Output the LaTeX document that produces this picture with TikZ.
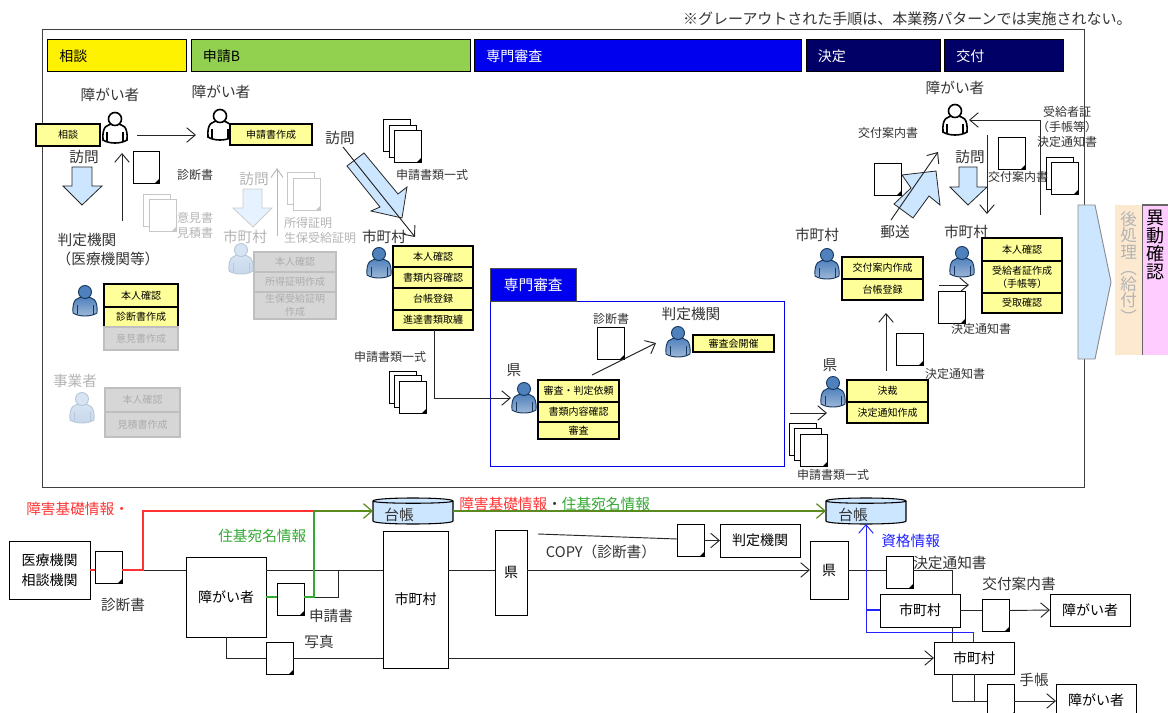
\documentclass[tikz,border=0pt]{standalone}
\usepackage{fontspec}
\setmainfont{Noto Sans CJK JP}
\usetikzlibrary{arrows.meta,positioning,calc,shapes.geometric}
\usepackage{xcolor}
\definecolor{hdrgreen}{HTML}{92D050}
\definecolor{hdrblue}{HTML}{0000EE}
\definecolor{hdrnavy}{HTML}{000066}
\definecolor{boxyellow}{HTML}{FFFF99}
\definecolor{skyblock}{HTML}{CCE6FF}
\definecolor{fadeblock}{HTML}{E6F2FF}
\definecolor{fadetext}{HTML}{B4B4B4}
\definecolor{infored}{HTML}{FF3333}
\definecolor{infogreen}{HTML}{33A833}
\definecolor{infoolive}{HTML}{5B8A1E}
\definecolor{infoblue}{HTML}{2222FF}
\definecolor{bandpeach}{HTML}{FCE9D0}
\definecolor{bandpink}{HTML}{FFCCFF}
\definecolor{usrtop}{HTML}{4F81BD}
\definecolor{usrlow}{HTML}{A3BBD8}
\definecolor{usrline}{HTML}{17375E}
\definecolor{fadetop}{HTML}{D6E4F3}
\definecolor{fadelow}{HTML}{C6D7EA}
\definecolor{fadeline}{HTML}{B8C8D8}

\begin{document}
\begin{tikzpicture}[
  x=0.75pt, y=-0.75pt,
  node distance=0pt,
  lbl/.style={inner sep=0, text=black!80, font=\fontsize{11}{14.5}\selectfont, align=center},
  sml/.style={inner sep=0, text=black!80, font=\fontsize{9}{11}\selectfont, align=center},
  faded/.style={text=fadetext},
  hdr/.style={draw=black, anchor=north west, minimum height=24pt, inner xsep=9pt, inner ysep=0, align=left, font=\fontsize{10.5}{12}\selectfont},
  ybox/.style 2 args={draw=black, line width=1.1pt, fill=boxyellow, minimum width=#1*0.75pt, minimum height=#2*0.75pt, inner sep=0, outer sep=0, align=center, font=\fontsize{7.5}{9.5}\selectfont},
  gbox/.style 2 args={draw=black!25, line width=1.1pt, fill=black!16, text=black!32, minimum width=#1*0.75pt, minimum height=#2*0.75pt, inner sep=0, outer sep=0, align=center, font=\fontsize{7.5}{9.5}\selectfont},
  wbox/.style 2 args={draw=black, fill=white, line width=0.7pt, anchor=north west, minimum width=#1*0.75pt, minimum height=#2*0.75pt, inner sep=0, outer sep=0, align=center, font=\fontsize{10.5}{15}\selectfont},
  docu/.style={draw=#1, fill=white, line width=0.7pt, minimum width=20.25pt, minimum height=24pt, inner sep=0, outer sep=0, anchor=north west,
    path picture={\fill[#1] (path picture bounding box.south east) -- ++(-3pt,0) -- ++(3pt,3pt) -- cycle;}},
  docu/.default=black,
  ln/.style={draw=black!85, line width=0.7pt},
  arr/.style={ln, -{Straight Barb[length=6.5pt,width=11pt]}},
  garr/.style={draw=black!28, line width=0.7pt, -{Straight Barb[length=6.5pt,width=9pt]}},
  blk/.style={draw=black!85, fill=skyblock, line width=0.6pt},
  gblk/.style={draw=black!20, fill=fadeblock, line width=0.6pt},
  db/.style={minimum width=60pt, minimum height=19.5pt, inner sep=0, outer sep=0},
  pics/drum/.style={code={
    \path[draw=black, line width=0.8pt, fill=skyblock] (-40,-10) -- (-40,10) .. controls (-40,14) and (40,14) .. (40,10) -- (40,-10) .. controls (40,-14) and (-40,-14) .. cycle;
    \draw[black, line width=0.8pt] (-40,-10) .. controls (-40,-7) and (40,-7) .. (40,-10);
  }},
  pics/usr/.style args={#1/#2/#3/#4}{code={
    \path[draw=#3, line width=#4, top color=#1, bottom color=#2] (-12,12) .. controls (-13,-2) and (-8,-4) .. (0,-4) .. controls (8,-4) and (13,-2) .. (12,12) .. controls (6,16) and (-6,16) .. cycle;
    \draw[#3, line width=#4] (-8,4) -- (-8,13) (8,4) -- (8,13);
    \path[draw=#3, line width=#4, top color=#1, bottom color=#1] (0,-9) circle (6.5);
  }}
]
\path[use as bounding box, clip] (0,0) rectangle (1168,713);

% upper frame and phase headers
\node[sml, font=\fontsize{11.25}{13}\selectfont, anchor=east] (note) at (1132,19) {※グレーアウトされた手順は、本業務パターンでは実施されない。};
\node[draw=black!75, line width=0.9pt, anchor=north west, minimum width=781.5pt, minimum height=343.5pt] (frame) at (42,29) {};
\node[hdr, fill=yellow, text width=86.25pt] (hdrsoudan) at (47,39.5) {相談};
\node[hdr, fill=hdrgreen, text width=191.25pt, right=3pt of hdrsoudan.north east, anchor=north west] (hdrshinsei) {申請B};
\node[hdr, fill=hdrblue, text=white, text width=227.25pt, right=3pt of hdrshinsei.north east, anchor=north west] (hdrsenmon) {専門審査};
\node[hdr, fill=hdrnavy, text=white, text width=82.5pt, right=3pt of hdrsenmon.north east, anchor=north west] (hdrkettei) {決定};
\node[hdr, fill=hdrnavy, text=white, text width=71.25pt, right=3pt of hdrkettei.north east, anchor=north west] (hdrkofu) {交付};

% soudan
\node[lbl] (lblusra) at (110,95) {障がい者};
\coordinate (usra) at (115,128);
\pic at (usra) {usr=white/white/black/1.2pt};
\node[ybox={64}{22}, anchor=north west] (soudan) at (36,124) {相談};
\node[lbl] (lblhoma) at (84,157) {訪問};
\draw[blk] (72,167) -- (92,167) -- (92,186) -- (102,186) -- (82,205) -- (63,186) -- (72,186) -- cycle;
\coordinate (ua) at (122,221); \coordinate (ub) at (122,153);
\draw[arr] (ua) -- (ub);
\node[docu, minimum width=19.5pt] (docshin) at (133,151) {};
\node[sml] (lblshin) at (195,175) {診断書};
\node[docu=black!22] (doci1) at (143,194) {};
\node[docu=black!22] (doci2) at (149,199) {};
\node[sml, faded] (lbliken) at (195,218) {意見書};
\node[sml, faded] (lblmitsu) at (195,233) {見積書};

\node[lbl] (lblhantei) at (87,240) {判定機関};
\node[lbl] (lblhantei2) at (108,259) {（医療機関等）};
\coordinate (usrc) at (85,301);
\pic at (usrc) {usr=usrtop/usrlow/usrline/0.7pt};
\node[ybox={74}{23}, anchor=north west] (hon) at (104,284) {本人確認};
\node[ybox={74}{20}, below=of hon] (shinsaku) {診断書作成};
\node[gbox={74}{23}, below=of shinsaku] (ikensaku) {意見書作成};

\node[lbl, faded] (lbljigyo) at (75,381) {事業者};
\coordinate (usrd) at (82,408);
\pic at (usrd) {usr=fadetop/fadelow/fadeline/0.7pt};
\node[gbox={75}{24}, anchor=north west] (ghona) at (105,388) {本人確認};
\node[gbox={75}{25}, below=of ghona] (gmitsu) {見積書作成};

% shinsei
\node[lbl] (lblusrb) at (221,92) {障がい者};
\coordinate (usrb) at (220,125);
\pic at (usrb) {usr=white/white/black/1.2pt};
\node[ybox={82}{21}, anchor=north west] (shinsaku2) at (230,124) {申請書作成};
\coordinate (ra) at (137,135); \coordinate (rb) at (196,135);
\draw[arr] (ra) -- (rb);

\node[lbl, faded] (lblhomb) at (254,179) {訪問};
\draw[gblk] (243,189) -- (262,189) -- (262,208) -- (272,208) -- (253,227) -- (233,208) -- (243,208) -- cycle;
\coordinate (ga) at (277,236); \coordinate (gb) at (277,168);
\draw[garr] (ga) -- (gb);
\node[docu=black!22] (docg1) at (287,172) {};
\node[docu=black!22] (docg2) at (293,178) {};
\node[sml, faded] (lblshotoku) at (308,223) {所得証明};
\node[sml, faded] (lblseiho) at (320,238) {生保受給証明};
\node[lbl, faded] (lblcityg) at (245,237) {市町村};
\coordinate (usrg) at (241,259);
\pic at (usrg) {usr=fadetop/fadelow/fadeline/0.7pt};
\node[gbox={82}{20}, anchor=north west] (ghonb) at (254,252) {本人確認};
\node[gbox={82}{20}, below=of ghonb] (gshotoku) {所得証明作成};
\node[gbox={82}{27}, below=of gshotoku] (gseiho) {生保受給証明\\作成};

\node[lbl] (lblhomc) at (340,138) {訪問};
\draw[blk] (364,153) -- (398,194) -- (407,187) -- (402,218) -- (371,211) -- (380,207) -- (347,166) -- cycle;
\coordinate (da) at (343,147); \coordinate (db) at (415,237);
\draw[arr] (da) -- (db);
\node[docu] (docs1) at (383,119) {};
\node[docu] (docs2) at (389,125) {};
\node[docu] (docs3) at (394,130) {};
\node[sml] (lblichi) at (432,175) {申請書類一式};

\node[lbl] (lblcitya) at (384,237) {市町村};
\coordinate (usre) at (379,263);
\pic at (usre) {usr=usrtop/usrlow/usrline/0.7pt};
\node[ybox={80}{21}, anchor=north west] (cityhon) at (393,246) {本人確認};
\node[ybox={80}{21}, below=of cityhon] (cityshorui) {書類内容確認};
\node[ybox={80}{22}, below=of cityshorui] (citydaicho) {台帳登録};
\node[ybox={80}{20}, below=of citydaicho] (cityshintatsu) {進達書類取纏};
\node[sml] (lblichib) at (390,357) {申請書類一式};
\node[docu] (docu1) at (389,371) {};
\node[docu] (docu2) at (394,375) {};
\node[docu] (docu3) at (399,381) {};

% senmon shinsa
\node[draw=hdrblue, line width=0.9pt, anchor=north west, minimum width=220.5pt, minimum height=123.75pt] (senmonframe) at (490,301) {};
\node[draw=black!70, fill=hdrblue, text=white, anchor=north west, minimum width=64.5pt, minimum height=24.75pt, inner sep=0, font=\fontsize{11}{13}\selectfont] (tabsenmon) at (490,268) {専門審査};
\node[sml] (lblshinb) at (611,319) {診断書};
\node[docu] (docshinb) at (597,327) {};
\node[lbl] (lblhanteib) at (691,314) {判定機関};
\coordinate (usrh) at (678,342);
\pic at (usrh) {usr=usrtop/usrlow/usrline/0.7pt};
\node[ybox={81}{17}, anchor=north west] (shinsakai) at (693,335) {審査会開催};
\coordinate (ha) at (592,375); \coordinate (hb) at (656,343);
\draw[arr] (ha) -- (hb);
\node[lbl] (lblken) at (514,370) {県};
\coordinate (usrk) at (524,398);
\pic at (usrk) {usr=usrtop/usrlow/usrline/0.7pt};
\node[ybox={81}{22}, anchor=north west] (kenirai) at (538,380) {審査・判定依頼};
\node[ybox={81}{20}, below=of kenirai] (kenshorui) {書類内容確認};
\node[ybox={81}{17}, below=of kenshorui] (kenshinsa) {審査};
\coordinate (kina) at (434,398); \coordinate (kinb) at (511,398);
\draw[ln] (cityshintatsu.south -| kina) -- (kina);
\draw[arr] (kina) -- (kinb);

% kettei
\coordinate (ia) at (790,413); \coordinate (ib) at (827,413);
\draw[arr] (ia) -- (ib);
\node[docu] (docv1) at (789,423) {};
\node[docu] (docv2) at (794,428) {};
\node[docu] (docv3) at (800,434) {};
\node[sml] (lblichic) at (833,475) {申請書類一式};
\node[lbl] (lblkenb) at (830,365) {県};
\coordinate (usrl) at (833,392);
\pic at (usrl) {usr=usrtop/usrlow/usrline/0.7pt};
\node[ybox={81}{22}, anchor=north west] (kessai) at (847,380) {決裁};
\node[ybox={81}{21}, below=of kessai] (ketsutsuchi) {決定通知作成};
\coordinate (ja) at (886,371); \coordinate (jb) at (886,313);
\draw[arr] (ja) -- (jb);
\node[lbl] (lblcityb) at (817,235) {市町村};
\coordinate (usrm) at (827,264);
\pic at (usrm) {usr=usrtop/usrlow/usrline/0.7pt};
\node[ybox={81}{22}, anchor=north west] (kofusaku) at (842,257) {交付案内作成};
\node[ybox={81}{21}, below=of kofusaku] (daicho2) {台帳登録};
\node[docu] (docket) at (896,333) {};
\node[sml] (lblket) at (955,374) {決定通知書};

% kofu
\coordinate (ka) at (939,285); \coordinate (kb) at (969,285);
\draw[arr] (ka) -- (kb);
\node[docu] (docketb) at (938,291) {};
\node[sml] (lblketb) at (981,329) {決定通知書};
\node[lbl] (lblcityc) at (966,232) {市町村};
\coordinate (usrn) at (962,262);
\pic at (usrn) {usr=usrtop/usrlow/usrline/0.7pt};
\node[ybox={80}{23}, anchor=north west] (kohon) at (982,238) {本人確認};
\node[ybox={80}{32}, below=of kohon] (kojukyu) {受給者証作成\\（手帳等）};
\node[ybox={80}{20}, below=of kojukyu] (kouketori) {受取確認};

\node[lbl] (lblusrc) at (955,88) {障がい者};
\coordinate (usrp) at (955,120);
\pic at (usrp) {usr=white/white/black/1.2pt};
\coordinate (ma) at (1040,215); \coordinate (mb) at (1040,120); \coordinate (mc) at (969,120);
\draw[ln] (ma) -- (mb);
\draw[arr] (mb) -- (mc);
\node[sml] (lbljukyu) at (1067,112) {受給者証};
\node[sml] (lbltecho) at (1067,127) {（手帳等）};
\node[sml] (lblketc) at (1067,142) {決定通知書};
\node[docu] (docw1) at (1046,157) {};
\node[docu] (docw2) at (1051,162) {};
\node[docu] (docanb) at (998,137) {};
\node[sml] (lblanb) at (1018,177) {交付案内書};
\coordinate (na) at (987,135); \coordinate (nb) at (987,214);
\draw[arr] (na) -- (nb);
\node[lbl] (lblhomd) at (970,157) {訪問};
\draw[blk] (959,167) -- (977,167) -- (977,187) -- (987,187) -- (968,205) -- (950,187) -- (959,187) -- cycle;
\node[sml] (lblana) at (888,133) {交付案内書};
\node[docu] (docana) at (874,163) {};
\draw[blk] (894,204) -- (911,188) -- (902,175) -- (936,171) -- (940,205) -- (929,196) -- (913,218) -- cycle;
\coordinate (oa) at (891,220); \coordinate (ob) at (938,152);
\draw[arr] (oa) -- (ob);
\node[lbl] (lblyuso) at (895,232) {郵送};

% right side band
\draw[draw=black!45, fill=skyblock, line width=0.7pt] (1078,205) -- (1095,205) -- (1111,282) -- (1095,359) -- (1078,359) -- cycle;
\node[anchor=north west, fill=bandpeach, minimum width=20pt, minimum height=112pt, inner sep=0] (atoshori) at (1115,205) {};
\node[anchor=north west, fill=bandpink, minimum width=19.5pt, minimum height=112pt, inner sep=0] (idou) at (1142,205) {};
\draw[black!60, line width=0.9pt] (idou.north west) -- (idou.north east);
\draw[black!60, line width=0.7pt] (idou.north west) -- (idou.south west);
\node[anchor=north, inner sep=0, align=center, text=fadetext, font=\fontsize{12.5}{12.2}\selectfont] (lblato) at ([yshift=2pt]atoshori.north) {\rule{0pt}{5pt}\\後\\処\\理\\︵\\給\\付\\︶};
\node[anchor=north, inner sep=0, align=center, text=black, font=\fontsize{13.5}{13.5}\selectfont] (lblidou) at ([yshift=4pt]idou.north) {\rule{0pt}{5pt}\\異\\動\\確\\認};

% data flow below the frame
\coordinate (rowa) at (0,570);
\coordinate (rowb) at (0,658);
\coordinate (rowc) at (0,597);
\coordinate (rowd) at (0,511);
\coordinate (rowe) at (0,539);
\node[wbox={81}{58}] (med) at (9,541) {医療機関\\相談機関};
\node[docu] (doca) at (95,551) {};
\node[lbl] (lbldoca) at (123,605) {診断書};
\node[wbox={80}{80}] (shogai) at (186,557) {障がい者};
\node[docu] (docb) at (277,583) {};
\node[lbl] (lbldocb) at (331,616) {申請書};
\node[docu] (docc) at (266,642) {};
\node[lbl] (lbldocc) at (319,642) {写真};
\node[wbox={65}{137}] (city) at (383,531) {市町村};
\node[db] (dba) at (413,511) {};
\pic at (dba) {drum};
\node[lbl] (lbldba) at (399,515) {台帳};
\node[wbox={32}{85}] (ken) at (495,530) {県};
\node[docu] (docd) at (677,524) {};
\node[lbl] (lblcopy) at (601,552) {COPY（診断書）};
\node[wbox={80}{33}] (hantei) at (720,524) {判定機関};
\node[wbox={38}{58}] (kenb) at (810,541) {県};
\node[db] (dbb) at (866,511) {};
\pic at (dbb) {drum};
\node[lbl] (lbldbb) at (853,515) {台帳};
\node[docu] (doce) at (886,556) {};
\node[lbl, anchor=west] (lbldoce) at (913,563) {決定通知書};
\node[wbox={80}{33}] (cityb) at (880,594) {市町村};
\node[lbl] (lbldocf) at (1019,584) {交付案内書};
\node[docu] (docf) at (982,599) {};
\node[wbox={80}{32}] (shogaib) at (1050,594) {障がい者};
\node[wbox={80}{32}] (cityc) at (934,642) {市町村};
\node[lbl] (lbldocg) at (1034,680) {手帳};
\node[docu] (docg) at (987,684) {};
\node[wbox={80}{32}] (shogaic) at (1056,684) {障がい者};

\node[lbl, anchor=west, text=infored] (lblkiso) at (26,509) {障害基礎情報・};
\node[lbl, anchor=west, text=infogreen] (lbljuki) at (218,536) {住基宛名情報};
\node[lbl, anchor=west] (lblkisob) at (459,504) {\textcolor{infored}{障害基礎情報}・\textcolor{infogreen}{住基宛名情報}};
\node[lbl, anchor=west, text=infoblue] (lblshikaku) at (881,541) {資格情報};

\coordinate (bend) at (338,597);
\coordinate (cmid) at (226,658);
\coordinate (copya) at (538,534);
\coordinate (copyb) at (952,570);
\coordinate (citytoc) at (952,627);
\coordinate (teca) at (952,701);
\coordinate (tecb) at (974,701);

\draw[ln] (med.east) -- (doca.west |- rowa);
\draw[ln] (doca.east |- rowa) -- (shogai.west |- rowa);
\draw[ln] (shogai.east |- rowa) -- (city.west |- rowa);
\draw[ln] (docb.east |- rowc) -- (bend) -- (bend |- rowa);
\draw[ln] (cmid |- shogai.south) -- (cmid) -- (docc.west |- rowb);
\draw[ln] (docc.east |- rowb) -- (city.west |- rowb);
\draw[ln] (city.east |- rowa) -- (ken.west |- rowa);
\draw[arr] (ken.east |- rowa) -- (kenb.west |- rowa);
\draw[arr] (city.east |- rowb) -- (cityc.west |- rowb);
\draw[ln] (copya) -- (docd.west |- rowe);
\draw[arr] (docd.east |- hantei.west) -- (hantei.west);
\draw[ln] (kenb.east |- rowa) -- (doce.west |- rowa);
\draw[ln] (doce.east |- rowa) -- (copyb) -- (copyb |- cityb.north);
\draw[ln] (citytoc) -- (citytoc |- cityc.north);
\draw[ln] (cityb.east) -- (docf.west |- cityb.east);
\draw[arr] (docf.east |- cityb.east) -- (shogaib.west);
\draw[ln] (teca |- cityc.south) -- (teca) -- (docg.west |- teca);
\draw[ln] (tecb |- cityc.south) -- (tecb);
\draw[arr] (docg.east |- teca) -- (shogaic.west |- teca);

% coloured information lines
\coordinate (redturn) at (143,570);
\coordinate (greenup) at (314,597);
\draw[infored, line width=0.8pt] (med.east) -- (doca.west |- rowa);
\draw[infored, line width=0.8pt] (doca.east |- rowa) -- (redturn) -- (redturn |- rowd) -- (greenup |- rowd);
\draw[infogreen, line width=0.9pt] (shogai.east |- rowc) -- (docb.west |- rowc);
\draw[infogreen, line width=0.9pt] (docb.east |- rowc) -- (greenup) -- (greenup |- rowd);
\draw[infoolive, line width=0.9pt, -{Straight Barb[length=6.5pt,width=11pt]}] (greenup |- rowd) -- (dba.west);
\draw[infoolive, line width=0.9pt, -{Straight Barb[length=6.5pt,width=11pt]}] (dba.east) -- (dbb.west);
\coordinate (blueup) at (866,610);
\coordinate (bluelow) at (973,632);
\draw[infoblue, line width=0.9pt] (cityb.west |- blueup) -- (blueup);
\draw[infoblue, line width=0.7pt, -{Straight Barb[length=6.5pt,width=11pt]}] (bluelow |- cityc.north) -- (bluelow) -- (blueup |- bluelow) -- (dbb.south);
\end{tikzpicture}
\end{document}
